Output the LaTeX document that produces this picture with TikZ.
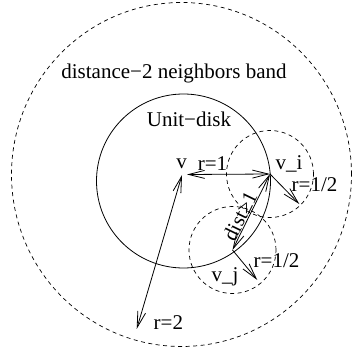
\documentclass[tikz,border=0pt]{standalone}
\usepackage{fontspec}
\setmainfont{Liberation Serif}
\usetikzlibrary{arrows.meta}
\begin{document}
\begin{tikzpicture}[x=1bp,y=1bp,
  every node/.style={inner sep=0pt,font=\fontsize{21bp}{25bp}\selectfont},
  lbl/.style={},
  dashcirc/.style={draw,line width=0.7bp,dash pattern=on 4bp off 3.5bp},
  solidcirc/.style={draw,line width=0.8bp},
  arr/.style={line width=0.8bp,-{Straight Barb[length=16bp,width=8bp,line width=0.8bp]}},
  darr/.style={line width=0.8bp,{Straight Barb[length=16bp,width=8bp,line width=0.8bp]}-{Straight Barb[length=16bp,width=8bp,line width=0.8bp]}}]
\useasboundingbox (0,0) rectangle (352,355);
% centres and points
\coordinate (O) at (181.5,180.5);
\coordinate (U) at (183.5,174);
\coordinate (v) at (182,180);
\coordinate (vs) at (187,180.5);
\coordinate (vi) at (270,181);
\coordinate (vj) at (232.5,105);
\coordinate (ti) at (299.3,151);
\coordinate (tj) at (257.3,75);
\coordinate (t2) at (136.7,26);
% circles
\draw[dashcirc] (O) circle[x radius=170, y radius=172];
\draw[solidcirc] (U) circle[radius=87];
\draw[dashcirc] (vi) circle[radius=43.5];
\draw[dashcirc] (vj) circle[radius=43.5];
% arrows
\draw[darr] (vs) -- (vi);
\draw[darr] (v) -- (t2);
\draw[darr] (vi) -- (vj);
\draw[arr] (vi) -- (ti);
\draw[arr] (vj) -- (tj);
% labels
\node[lbl] (band) at (174,282) {distance−2 neighbors band};
\node[lbl] (unit) at (189,236) {Unit−disk};
\node[lbl] (vl) at (181.7,191) {v};
\node[lbl] (r1) at (212.5,191) {r=1};
\node[lbl] (vil) at (289,191) {v\_i};
\node[lbl] (rhi) at (314.5,170) {r=1/2};
\node[lbl] (rhj) at (276.5,94) {r=1/2};
\node[lbl] (vjl) at (225,78) {v\_j};
\node[lbl] (r2) at (168.4,32) {r=2};
\node[lbl,rotate=64] (dist) at (240,139) {dist≥1};
\end{tikzpicture}
\end{document}
